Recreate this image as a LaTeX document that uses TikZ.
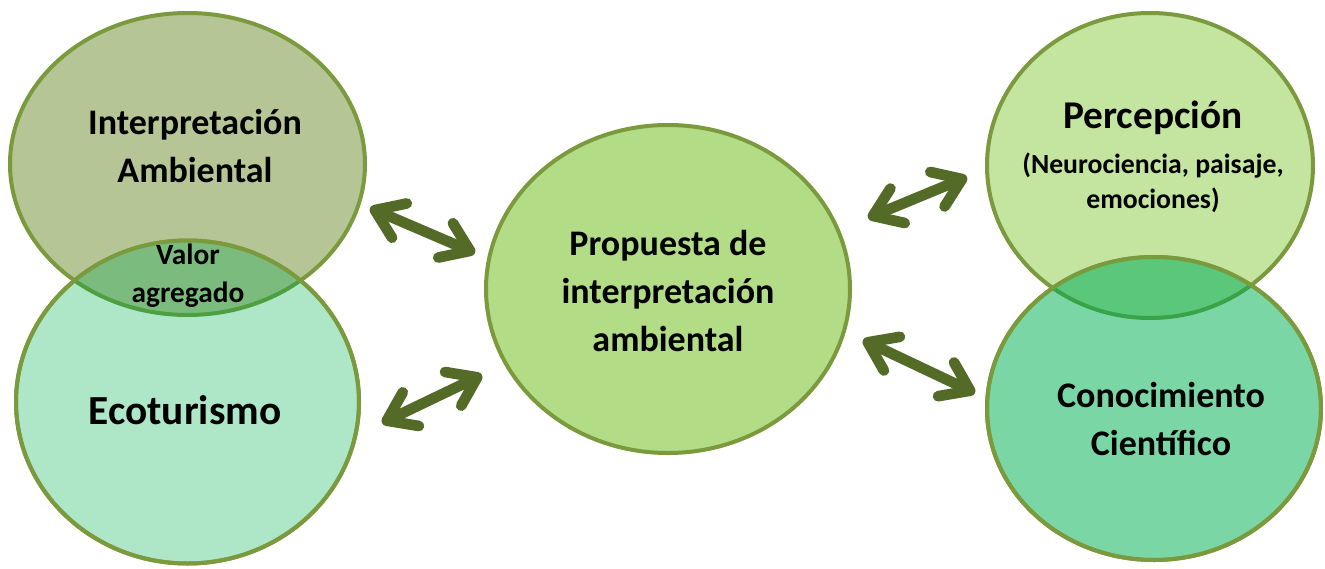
\documentclass[tikz,border=0pt]{standalone}
\usepackage{fontspec}
\setmainfont{Carlito}
\usetikzlibrary{shapes.geometric,arrows.meta}
\definecolor{rim}{HTML}{7A9A3D}
\definecolor{iaFill}{HTML}{B5C595}
\definecolor{ecoFill}{HTML}{AEE6C8}
\definecolor{lensL}{HTML}{7BBB7E}
\definecolor{lensLrim}{HTML}{4E9F3F}
\definecolor{propFill}{HTML}{B2DC85}
\definecolor{perFill}{HTML}{C3E5A0}
\definecolor{conFill}{HTML}{7AD6A5}
\definecolor{lensR}{HTML}{5AC77A}
\definecolor{lensRrim}{HTML}{38A347}
\definecolor{arrowc}{HTML}{546B27}
\begin{document}
\begin{tikzpicture}[x=0.75pt,y=-0.75pt,
  blob/.style={ellipse, draw=rim, line width=3pt, inner sep=0pt, outer sep=0pt},
  bigtxt/.style={font=\fontsize{27}{36}\selectfont\bfseries, align=center, text=black, inner sep=0pt},
  hugetxt/.style={font=\fontsize{31}{38}\selectfont\bfseries, align=center, text=black, inner sep=0pt},
  titletxt/.style={font=\fontsize{29.5}{36}\selectfont\bfseries, align=center, text=black, inner sep=0pt},
  midtxt/.style={font=\fontsize{22}{28.5}\selectfont\bfseries, align=center, text=black, inner sep=0pt},
  subtxt/.style={font=\fontsize{20.8}{26}\selectfont\bfseries, align=center, text=black, inner sep=0pt},
  dbl/.style={draw=arrowc, line width=8pt, {Straight Barb[round,length=20pt,width=28pt]}-{Straight Barb[round,length=20pt,width=28pt]}}
]
\useasboundingbox (0,0) rectangle (1325,568);
\fill[white] (0,0) rectangle (1325,568);

% left pair
\node[blob, fill=iaFill, minimum width=266.25pt, minimum height=226.5pt] (ia) at (187.5,164) {};
\node[blob, fill=ecoFill, minimum width=257.25pt, minimum height=242.25pt] (eco) at (187.5,402) {};
\begin{scope}
  \clip (eco.center) ellipse [x radius=128.625pt, y radius=121.125pt];
  \fill[lensL] (ia.center) ellipse [x radius=133.125pt, y radius=113.25pt];
  \draw[lensLrim, line width=3pt] (ia.center) ellipse [x radius=133.125pt, y radius=113.25pt];
\end{scope}
\draw[rim, line width=3pt] (eco.center) ellipse [x radius=128.625pt, y radius=121.125pt];

% centre
\node[blob, fill=propFill, minimum width=273pt, minimum height=246pt] (prop) at (668,289) {};

% right pair
\node[blob, fill=perFill, minimum width=244.5pt, minimum height=228.75pt] (per) at (1150,165.5) {};
\node[blob, fill=conFill, minimum width=250.5pt, minimum height=227.25pt] (con) at (1154,408.5) {};
\begin{scope}
  \clip (con.center) ellipse [x radius=125.25pt, y radius=113.625pt];
  \fill[lensR] (per.center) ellipse [x radius=122.25pt, y radius=114.375pt];
  \draw[lensRrim, line width=3pt] (per.center) ellipse [x radius=122.25pt, y radius=114.375pt];
\end{scope}
\draw[rim, line width=3pt] (con.center) ellipse [x radius=125.25pt, y radius=113.625pt];

% texts
\node[bigtxt] (tia) at (195,146) {Interpretación\\Ambiental};
\node[midtxt] (tval) at (188,276) {Valor\\agregado};
\node[hugetxt] (teco) at (185,410) {Ecoturismo};
\node[bigtxt] (tprop) at (668,291) {Propuesta de\\interpretación\\ambiental};
\node[titletxt] (tper) at (1153,118) {Percepción};
\node[subtxt] (tsub) at (1153,183) {(Neurociencia, paisaje,\\emociones)};
\node[bigtxt] (tcon) at (1161,419) {Conocimiento\\Científico};

% arrows
\coordinate (a1s) at (370,208); \coordinate (a1e) at (475,253);
\coordinate (a2s) at (382,423); \coordinate (a2e) at (482,375);
\coordinate (a3s) at (868,218); \coordinate (a3e) at (967,177);
\coordinate (a4s) at (863,340); \coordinate (a4e) at (975,393);
\draw[dbl] (a1s) -- (a1e);
\draw[dbl] (a2s) -- (a2e);
\draw[dbl] (a3s) -- (a3e);
\draw[dbl] (a4s) -- (a4e);
\end{tikzpicture}
\end{document}
